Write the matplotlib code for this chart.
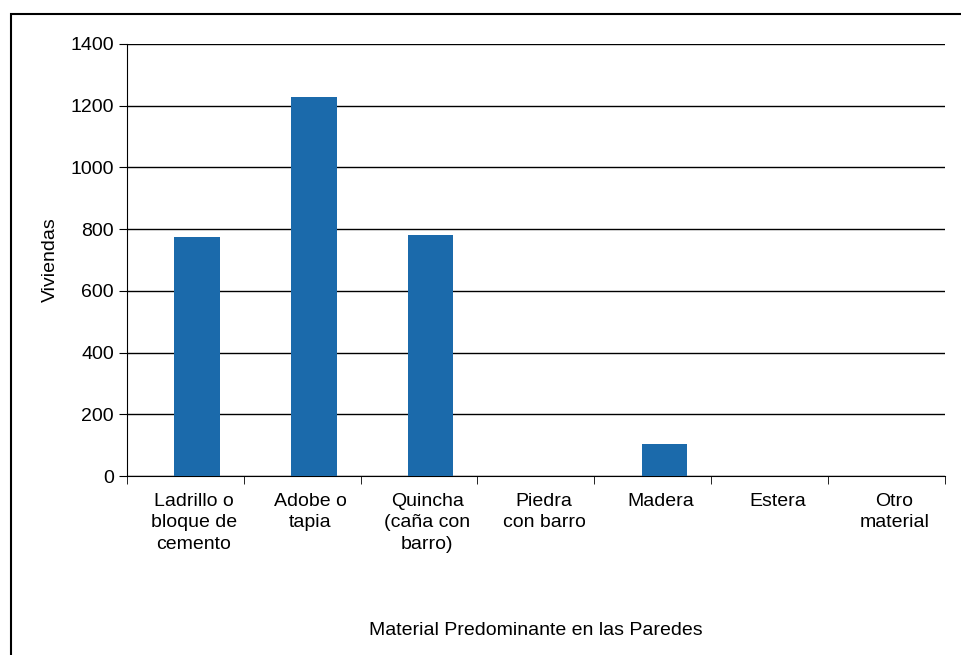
import matplotlib.pyplot as plt
import numpy as np

categories = ['Ladrillo o\nbloque de\ncemento', 'Adobe o\ntapia', 'Quincha\n(caña con\nbarro)',
              'Piedra\ncon barro', 'Madera', 'Estera', 'Otro\nmaterial']
viviendas = [775, 1228, 780, 0, 105, 0, 0]

fig = plt.figure(figsize=(9.62, 6.55), dpi=100)
plt.rcParams['font.family'] = ['Liberation Sans', 'DejaVu Sans']
ax = fig.add_axes([0.132, 0.273, 0.85, 0.66])

x = np.arange(len(categories))
ax.bar(x + 0.1, viviendas, width=0.39, color='#1b6aab', zorder=3)

ax.set_ylim(0, 1400)
ax.set_xlim(-0.5, len(categories) - 0.5)
ax.set_yticks(range(0, 1401, 200))
ax.yaxis.grid(True, color='black', linewidth=1, zorder=0)
ax.set_xticks(x + 0.07)
ax.set_xticklabels(categories, fontsize=14, va='top', linespacing=1.35)
ax.tick_params(axis='x', length=0, pad=12)
ax.set_xticks(np.arange(-0.5, len(categories), 1), minor=True)
ax.tick_params(axis='x', which='minor', length=6)
ax.tick_params(axis='y', labelsize=14, length=6)
for s in ['top', 'right']:
    ax.spines[s].set_visible(False)
ax.set_ylabel('Viviendas', fontsize=14, labelpad=8)
ax.set_xlabel('Material Predominante en las Paredes', fontsize=14, labelpad=50)

fig.patches.append(plt.Rectangle((0.011, -0.01), 1.0, 0.988, transform=fig.transFigure,
                                 fill=False, edgecolor='black', linewidth=1.5))
fig.savefig('out.png')
